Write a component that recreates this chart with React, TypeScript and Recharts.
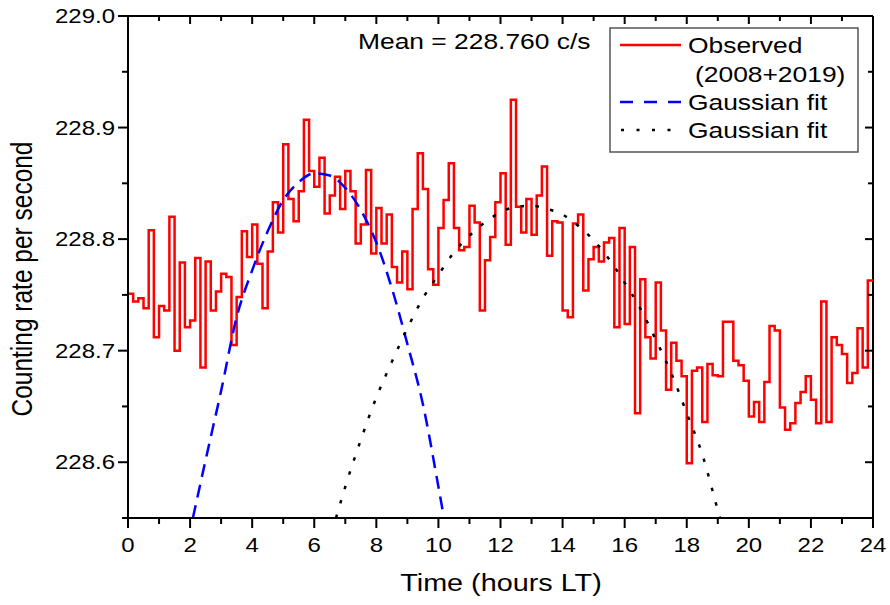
import React from 'react';
import { LineChart, Line, XAxis, YAxis, ReferenceLine } from 'recharts';

// 10-minute bins, 00:00 LT onward (144 bins)
const observedRate = [
  228.751, 228.744, 228.747, 228.738, 228.808, 228.712, 228.740, 228.736, 228.820, 228.700,
  228.779, 228.721, 228.727, 228.783, 228.685, 228.780, 228.736, 228.753, 228.769, 228.766,
  228.705, 228.748, 228.807, 228.784, 228.813, 228.778, 228.738, 228.789, 228.833, 228.806,
  228.885, 228.836, 228.816, 228.843, 228.907, 228.861, 228.847, 228.873, 228.823, 228.839,
  228.856, 228.827, 228.861, 228.843, 228.796, 228.813, 228.862, 228.787, 228.828, 228.796,
  228.822, 228.775, 228.761, 228.789, 228.755, 228.827, 228.877, 228.845, 228.773, 228.759,
  228.810, 228.835, 228.868, 228.810, 228.790, 228.793, 228.830, 228.815, 228.736, 228.781,
  228.802, 228.833, 228.859, 228.795, 228.925, 228.829, 228.806, 228.836, 228.804, 228.839,
  228.865, 228.785, 228.816, 228.815, 228.736, 228.730, 228.814, 228.822, 228.754, 228.782,
  228.793, 228.780, 228.797, 228.801, 228.721, 228.810, 228.724, 228.793, 228.644, 228.764,
  228.712, 228.693, 228.761, 228.718, 228.665, 228.707, 228.691, 228.677, 228.599, 228.682,
  228.685, 228.636, 228.688, 228.678, 228.677, 228.726, 228.726, 228.691, 228.687, 228.673,
  228.641, 228.654, 228.636, 228.672, 228.722, 228.718, 228.649, 228.629, 228.635, 228.653,
  228.663, 228.677, 228.656, 228.635, 228.744, 228.636, 228.712, 228.705, 228.697, 228.671,
  228.680, 228.720, 228.685, 228.763,
];
const binsPerHour = 6;

// first gaussian fit (blue dashed)
const fit1Hours = [2.09, 2.5, 3.0, 3.5, 4.0, 4.5, 5.0, 5.5, 6.0, 6.5, 7.0, 7.5, 8.0, 8.5, 9.0, 9.5, 10.0, 10.18];
const fit1Rate = [
  228.55, 228.602, 228.664, 228.730, 228.772, 228.807, 228.835, 228.851, 228.859,
  228.857, 228.846, 228.826, 228.797, 228.756, 228.706, 228.652, 228.578, 228.55,
];

// second gaussian fit (black dotted)
const fit2Hours = [
  6.7, 7.0, 7.5, 8.0, 8.5, 9.0, 9.5, 10.0, 10.5, 11.0, 11.5, 12.0, 12.5, 13.0,
  13.5, 14.0, 14.5, 15.0, 15.5, 16.0, 16.5, 17.0, 17.5, 18.0, 18.5, 19.0, 19.07,
];
const fit2Rate = [
  228.55, 228.578, 228.620, 228.658, 228.690, 228.720, 228.747, 228.768, 228.788, 228.803,
  228.815, 228.824, 228.829, 228.830, 228.827, 228.822, 228.812, 228.799, 228.782, 228.761,
  228.738, 228.710, 228.680, 228.644, 228.607, 228.557, 228.55,
];

const hourTicks = [0, 1, 2, 3, 4, 5, 6, 7, 8, 9, 10, 11, 12, 13, 14, 15, 16, 17, 18, 19, 20, 21, 22, 23, 24];
const rateTicks = [228.55, 228.6, 228.65, 228.7, 228.75, 228.8, 228.85, 228.9, 228.95, 229.0];

const W = 890;
const H = 605;
const PLOT_TOP = 16;
const PLOT_RIGHT = 873;
const SX = 1.2; // text in the source is a bit wide
const FONT = '"Liberation Sans", Arial, Helvetica, sans-serif';

const observedData = observedRate
  .map((y, i) => ({ x: i / binsPerHour, y }))
  .concat([{ x: 24, y: observedRate[observedRate.length - 1] }]);
const fit1Data = fit1Hours.map((x, i) => ({ x, y: fit1Rate[i] }));
const fit2Data = fit2Hours.map((x, i) => ({ x, y: fit2Rate[i] }));

function HourTick(props: any) {
  const { x, y, payload } = props;
  const v = payload.value as number;
  const major = v % 2 === 0;
  return (
    <g>
      <line x1={x} x2={x} y1={y} y2={y + (major ? 10 : 6)} stroke="#000" strokeWidth={2} />
      <line x1={x} x2={x} y1={PLOT_TOP} y2={PLOT_TOP + (major ? 8 : 5)} stroke="#000" strokeWidth={2} />
      {major && (
        <text
          transform={`translate(${x},${y + 34}) scale(${SX},1)`}
          textAnchor="middle"
          fontSize={20}
          fontFamily={FONT}
          fill="#000"
        >
          {v}
        </text>
      )}
    </g>
  );
}

function RateTick(props: any) {
  const { x, y, payload } = props;
  const v = payload.value as number;
  const major = Math.round(v * 100) % 10 === 0;
  return (
    <g>
      <line x1={x - (major ? 10 : 6)} x2={x} y1={y} y2={y} stroke="#000" strokeWidth={2} />
      <line x1={PLOT_RIGHT - (major ? 8 : 5)} x2={PLOT_RIGHT} y1={y} y2={y} stroke="#000" strokeWidth={2} />
      {major && (
        <text
          transform={`translate(${x - 13},${y + 7}) scale(${SX},1)`}
          textAnchor="end"
          fontSize={20}
          fontFamily={FONT}
          fill="#000"
        >
          {v.toFixed(1)}
        </text>
      )}
    </g>
  );
}

function Overlay() {
  const txt = { fontFamily: FONT, fill: '#000' };
  return (
    <svg width={W} height={H} style={{ position: 'absolute', left: 0, top: 0, pointerEvents: 'none' }}>
      <text transform={`translate(358,49) scale(${SX},1)`} fontSize={22} {...txt}>
        Mean = 228.760 c/s
      </text>

      <rect x={610} y={28} width={248} height={124} fill="#fff" stroke="#555" strokeWidth={1.5} />
      <line x1={620} x2={681} y1={45} y2={45} stroke="#ff0000" strokeWidth={2.5} />
      <text transform={`translate(688,53) scale(${SX},1)`} fontSize={22} {...txt}>Observed</text>
      <text transform={`translate(695,82) scale(${SX},1)`} fontSize={22} {...txt}>(2008+2019)</text>
      <line x1={620} x2={681} y1={102} y2={102} stroke="#0000ff" strokeWidth={2.5} strokeDasharray="13 11" />
      <text transform={`translate(688,110) scale(${SX},1)`} fontSize={22} {...txt}>Gaussian fit</text>
      <line x1={621} x2={681} y1={130} y2={130} stroke="#000" strokeWidth={2.5} strokeDasharray="3 12.5" />
      <text transform={`translate(688,138) scale(${SX},1)`} fontSize={22} {...txt}>Gaussian fit</text>

      <text transform={`translate(501,591) scale(${SX},1)`} textAnchor="middle" fontSize={24} {...txt}>
        Time (hours LT)
      </text>
      <text transform={`translate(32,279) scale(${SX},1) rotate(-90)`} textAnchor="middle" fontSize={24.5} {...txt}>
        Counting rate per second
      </text>
    </svg>
  );
}

export default function App() {
  return (
    <div style={{ position: 'absolute', left: 0, top: 0, width: W, height: H, background: '#fff' }}>
      <LineChart width={W} height={H} margin={{ top: PLOT_TOP, right: W - PLOT_RIGHT, bottom: 0, left: 0 }}>
        <XAxis
          dataKey="x"
          type="number"
          domain={[0, 24]}
          ticks={hourTicks}
          interval={0}
          allowDataOverflow
          height={87}
          tickSize={0}
          tickMargin={0}
          tickLine={false}
          axisLine={{ stroke: '#000', strokeWidth: 2 }}
          tick={(p: any) => <HourTick {...p} />}
        />
        <YAxis
          type="number"
          domain={[228.55, 229.0]}
          ticks={rateTicks}
          interval={0}
          allowDataOverflow
          width={128}
          tickSize={0}
          tickMargin={0}
          tickLine={false}
          axisLine={{ stroke: '#000', strokeWidth: 2 }}
          tick={(p: any) => <RateTick {...p} />}
        />
        <ReferenceLine y={229.0} stroke="#000" strokeWidth={2} />
        <ReferenceLine x={24} stroke="#000" strokeWidth={2} />
        <Line
          data={observedData}
          dataKey="y"
          type="stepAfter"
          stroke="#ff0000"
          strokeWidth={2.5}
          dot={false}
          isAnimationActive={false}
        />
        <Line
          data={fit1Data}
          dataKey="y"
          type="monotone"
          stroke="#0000ff"
          strokeWidth={2.5}
          strokeDasharray="13 8"
          dot={false}
          isAnimationActive={false}
        />
        <Line
          data={fit2Data}
          dataKey="y"
          type="monotone"
          stroke="#000"
          strokeWidth={2.5}
          strokeDasharray="3.5 11.5"
          dot={false}
          isAnimationActive={false}
        />
      </LineChart>
      <Overlay />
    </div>
  );
}
